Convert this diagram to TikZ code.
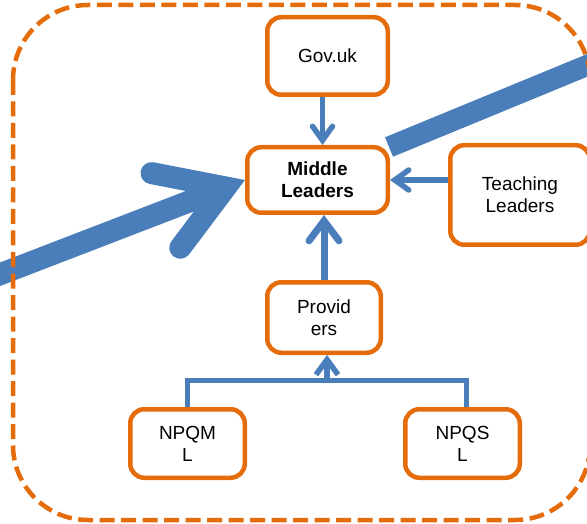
\documentclass[tikz,border=0pt]{standalone}
\usepackage{fontspec}
\setmainfont{Liberation Sans}
\usetikzlibrary{arrows.meta,positioning,calc}
\definecolor{boxorange}{HTML}{E46C0A}
\definecolor{linkblue}{HTML}{4A7EBB}

\begin{document}
\begin{tikzpicture}[x=1pt, y=-1pt,
    box/.style={rectangle, draw=boxorange, line width=4.5pt, rounded corners=14pt, align=center, inner sep=0pt, font=\fontsize{19}{22}\selectfont},
    link/.style={draw=linkblue, line width=5.5pt, -{Straight Barb[length=14pt, width=20pt, line cap=round]}},
    mainlink/.style={draw=linkblue, line width=7pt, -{Straight Barb[length=20pt, width=30pt, line cap=round]}},
    bigarrow/.style={draw=linkblue, line width=22pt, -{Straight Barb[length=64pt, width=80pt, line cap=round]}},
    bracket/.style={draw=linkblue, line width=5.5pt},
    frame/.style={draw=boxorange, line width=4.5pt, dash pattern=on 15pt off 6.5pt, rounded corners=75pt}
]
\useasboundingbox (0,0) rectangle (587,524);

% Boxes
\node[box, minimum width=120.5pt, minimum height=77.5pt] (gov) at (327.5,56) {Gov.uk};
\node[box, minimum width=140.5pt, minimum height=65.5pt, font=\fontsize{19}{22}\selectfont\bfseries] (ml) at (317.5,180) {Middle\\Leaders};
\node[box, minimum width=139.5pt, minimum height=99.5pt] (tl) at (520,195) {Teaching\\Leaders};
\node[box, minimum width=113.5pt, minimum height=70.5pt] (prov) at (324,317.5) {Provid\\ers};
\node[box, minimum width=114.5pt, minimum height=68.5pt] (npqml) at (187.5,443.5) {NPQM\\L};
\node[box, minimum width=114.5pt, minimum height=68.5pt] (npqsl) at (462.5,443.5) {NPQS\\L};

% Arrows into Middle Leaders
\draw[link] ([xshift=-5pt]gov.south) -- ([xshift=5pt]ml.north);
\draw[link] (tl.west |- ml.east) -- (ml.east);
\draw[mainlink] (prov.north) -- (prov.north |- ml.south);

% NPQ bracket
\coordinate (join) at (327,380.5);
\draw[bracket] (npqml.north) |- (join) -| ([xshift=4pt]npqsl.north);
\draw[link, -{Straight Barb[length=15pt, width=22pt]}] (join) -- (join |- prov.south);

% Big arrow through
\coordinate (leftend) at (-20,282);
\coordinate (bandstart) at (389,147);
\coordinate (bandend) at (610,56);
\draw[bigarrow] (leftend) -- (ml.west);
\draw[linkblue, line width=21pt] (bandstart) -- (bandend);

% Dashed boundary
\draw[frame] (13,5) rectangle (590,520);

\end{tikzpicture}
\end{document}
